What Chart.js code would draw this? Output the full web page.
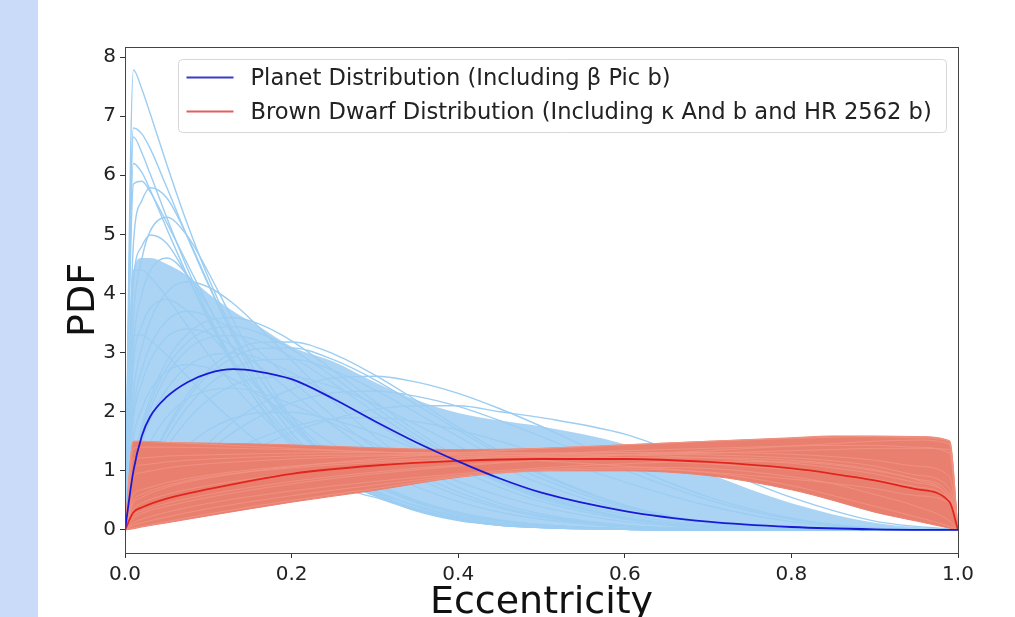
<!DOCTYPE html>
<html lang="en">
<head>
<meta charset="UTF-8">
<title>Eccentricity PDF</title>
<script src="https://cdn.jsdelivr.net/npm/chart.js@4.4.1/dist/chart.umd.min.js"></script>
<style>
  html, body { margin: 0; padding: 0; background: #fff; overflow: hidden; }
  #wrap { position: relative; width: 1015px; height: 617px; overflow: hidden; }
  #plot { position: absolute; left: 0; top: 0; }
  #strip { position: absolute; left: 0; top: 0; width: 38px; height: 617px; background: #c9dbf8; }
</style>
</head>
<body>
<div id="wrap">
  <canvas id="plot" width="1015" height="640"></canvas>
  <div id="strip"></div>
</div>
<script>
// eccentricity grid used by the planet curves
const eccPlanet = [0, 0.0101, 0.0202, 0.0303, 0.05, 0.075, 0.1, 0.13, 0.16, 0.2, 0.25, 0.3, 0.35, 0.4, 0.45, 0.5, 0.6, 0.7, 0.8, 0.9, 1.0];

const planetMain = [0, 1.0, 1.59, 1.92, 2.25, 2.50, 2.65, 2.72, 2.68, 2.55, 2.22, 1.84, 1.48, 1.16, 0.87, 0.63, 0.32, 0.14, 0.05, 0.01, 0];

// individual posterior draws (light blue)
const planetDraws = [
  [0, 7.78, 7.46, 7.04, 6.19, 5.17, 4.27, 3.35, 2.61, 1.83, 1.14, 0.68, 0.40, 0.22, 0.11, 0.06, 0.01, 0, 0, 0, 0],
  [0, 6.8, 6.7, 6.45, 5.8, 4.95, 4.15, 3.3, 2.6, 1.9, 1.25, 0.8, 0.5, 0.3, 0.17, 0.09, 0.02, 0, 0, 0, 0],
  [0, 6.65, 6.38, 6.02, 5.29, 4.42, 3.65, 2.86, 2.23, 1.56, 0.97, 0.6, 0.36, 0.2, 0.1, 0.05, 0.01, 0, 0, 0, 0],
  [0, 6.2, 6.05, 5.75, 5.1, 4.3, 3.55, 2.78, 2.15, 1.5, 0.95, 0.58, 0.34, 0.19, 0.1, 0.05, 0.01, 0, 0, 0, 0],
  [0, 5.85, 5.9, 5.72, 5.2, 4.5, 3.8, 3.05, 2.42, 1.76, 1.15, 0.74, 0.46, 0.27, 0.15, 0.08, 0.02, 0, 0, 0, 0],
  [0, 4.84, 5.57, 5.79, 5.62, 4.96, 4.17, 3.26, 2.47, 1.64, 1.0, 0.6, 0.33, 0.17, 0.08, 0.04, 0.01, 0, 0, 0, 0],
  [0, 3.59, 4.58, 5.06, 5.29, 4.97, 4.36, 3.54, 2.77, 1.90, 1.11, 0.64, 0.35, 0.18, 0.09, 0.04, 0.01, 0, 0, 0, 0],
  [0, 3.12, 3.98, 4.39, 4.60, 4.31, 3.78, 3.07, 2.40, 1.65, 0.97, 0.6, 0.33, 0.17, 0.08, 0.04, 0.01, 0, 0, 0, 0],
  [0, 2.32, 3.08, 3.54, 4.02, 4.2, 4.11, 3.83, 3.44, 2.87, 2.18, 1.58, 1.09, 0.72, 0.45, 0.27, 0.08, 0.02, 0, 0, 0],
  [0, 1.88, 2.49, 2.87, 3.26, 3.4, 3.33, 3.10, 2.78, 2.33, 1.76, 1.28, 0.88, 0.58, 0.37, 0.22, 0.06, 0.01, 0, 0, 0],
  [0, 1.15, 1.77, 2.23, 2.86, 3.32, 3.54, 3.59, 3.49, 3.20, 2.70, 2.17, 1.67, 1.23, 0.87, 0.58, 0.22, 0.06, 0.01, 0, 0],
  [0, 0.96, 1.48, 1.86, 2.38, 2.77, 2.95, 2.99, 2.91, 2.66, 2.25, 1.81, 1.40, 1.03, 0.72, 0.48, 0.18, 0.05, 0.01, 0, 0],
  [0, 0.42, 0.80, 1.15, 1.72, 2.29, 2.70, 3.02, 3.17, 3.18, 2.98, 2.62, 2.19, 1.74, 1.33, 0.96, 0.42, 0.13, 0.02, 0, 0],
  [0, 0.34, 0.65, 0.93, 1.40, 1.86, 2.20, 2.45, 2.57, 2.59, 2.42, 2.13, 1.78, 1.42, 1.08, 0.78, 0.34, 0.11, 0.02, 0, 0],
  [0, 0.11, 0.25, 0.40, 0.68, 1.03, 1.33, 1.65, 1.91, 2.15, 2.32, 2.35, 2.26, 2.09, 1.85, 1.58, 1.01, 0.51, 0.18, 0.03, 0],
  [0, 0.07, 0.16, 0.25, 0.44, 0.68, 0.91, 1.16, 1.39, 1.65, 1.88, 2.04, 2.1, 2.1, 2.0, 1.9, 1.62, 1.1, 0.55, 0.15, 0],
  [0, 1.55, 2.05, 2.36, 2.68, 2.8, 2.74, 2.55, 2.29, 1.92, 1.45, 1.05, 0.73, 0.48, 0.30, 0.18, 0.05, 0.01, 0, 0, 0],
  [0, 0.77, 1.18, 1.49, 1.91, 2.22, 2.36, 2.40, 2.33, 2.13, 1.80, 1.45, 1.12, 0.82, 0.58, 0.39, 0.14, 0.04, 0.01, 0, 0],
  [0, 0.26, 0.50, 0.72, 1.08, 1.43, 1.69, 1.89, 1.98, 1.99, 1.86, 1.64, 1.37, 1.09, 0.83, 0.60, 0.26, 0.08, 0.02, 0, 0],
  [0, 4.39, 4.4, 4.28, 3.94, 3.45, 2.97, 2.45, 1.99, 1.48, 0.99, 0.65, 0.41, 0.24, 0.14, 0.08, 0.02, 0, 0, 0, 0],
  [0, 3.29, 3.3, 3.21, 2.96, 2.59, 2.23, 1.84, 1.49, 1.11, 0.75, 0.55, 0.34, 0.2, 0.11, 0.06, 0.01, 0, 0, 0, 0],
  [0, 1.05, 1.62, 2.04, 2.62, 3.05, 3.25, 3.29, 3.20, 2.93, 2.48, 1.99, 1.53, 1.13, 0.80, 0.53, 0.20, 0.05, 0.01, 0, 0],
  [0, 0.38, 0.73, 1.04, 1.56, 2.08, 2.45, 2.73, 2.87, 2.89, 2.70, 2.37, 1.98, 1.58, 1.20, 0.87, 0.38, 0.12, 0.02, 0, 0],
  [0, 0.09, 0.21, 0.32, 0.55, 0.83, 1.08, 1.34, 1.54, 1.74, 1.88, 1.90, 1.83, 1.69, 1.50, 1.28, 0.81, 0.41, 0.14, 0.02, 0],
  [0, 4.18, 4.8, 4.99, 4.85, 4.28, 3.6, 2.81, 2.13, 1.42, 0.88, 0.58, 0.32, 0.16, 0.08, 0.04, 0.01, 0, 0, 0, 0],
  [0, 2.8, 3.45, 3.75, 3.9, 3.7, 3.35, 2.85, 2.38, 1.8, 1.2, 0.78, 0.48, 0.28, 0.16, 0.09, 0.02, 0, 0, 0, 0],
  [0, 1.10, 1.70, 2.14, 2.74, 3.18, 3.39, 3.44, 3.34, 3.06, 2.59, 2.08, 1.60, 1.18, 0.83, 0.56, 0.21, 0.05, 0.01, 0, 0],
  [0, 0.41, 0.78, 1.11, 1.67, 2.22, 2.62, 2.92, 3.07, 3.08, 2.88, 2.54, 2.12, 1.69, 1.28, 0.93, 0.41, 0.13, 0.02, 0, 0],
  [0, 0.12, 0.28, 0.44, 0.76, 1.14, 1.47, 1.83, 2.11, 2.38, 2.57, 2.6, 2.5, 2.31, 2.05, 1.75, 1.11, 0.56, 0.2, 0.03, 0],
  [0, 2.04, 2.71, 3.12, 3.54, 3.7, 3.62, 3.37, 3.03, 2.53, 1.92, 1.39, 0.96, 0.64, 0.40, 0.24, 0.07, 0.01, 0, 0, 0]
];

// the dense part of the light blue bundle
const planetBandLow  = [0, 0.3, 0.6, 0.8, 1.0, 1.1, 1.1, 1.0, 0.9, 0.8, 0.7, 0.6, 0.36, 0.2, 0.1, 0.05, 0.02, 0.01, 0, 0, 0];
const planetBandHigh = [0, 4.4, 4.6, 4.6, 4.5, 4.3, 4.0, 3.7, 3.45, 3.1, 2.85, 2.5, 2.2, 1.98, 1.85, 1.75, 1.45, 0.95, 0.45, 0.12, 0];

// eccentricity grid used by the brown dwarf curves
const eccDwarf = [0, 0.0101, 0.02, 0.05, 0.1, 0.2, 0.3, 0.4, 0.5, 0.6, 0.7, 0.8, 0.85, 0.9, 0.95, 0.9899, 1.0];

const dwarfMain = [0, 0.30, 0.38, 0.53, 0.69, 0.95, 1.09, 1.17, 1.20, 1.20, 1.15, 1.04, 0.95, 0.84, 0.69, 0.47, 0];

const dwarfDraws = [
  [0, 1.5, 1.5, 1.48, 1.45, 1.38, 1.32, 1.25, 1.17, 1.08, 0.98, 0.86, 0.79, 0.7, 0.58, 0.45, 0],
  [0, 0.45, 0.55, 0.72, 0.88, 1.07, 1.2, 1.3, 1.38, 1.44, 1.5, 1.55, 1.57, 1.58, 1.56, 1.5, 0],
  [0, 0.03, 0.06, 0.14, 0.27, 0.5, 0.7, 0.9, 1.0, 1.03, 0.97, 0.75, 0.58, 0.4, 0.22, 0.06, 0],
  [0, 0.25, 0.32, 0.45, 0.6, 0.82, 0.98, 1.1, 1.18, 1.22, 1.22, 1.18, 1.12, 1.02, 0.86, 0.6, 0],
  [0, 1.2, 1.22, 1.25, 1.27, 1.3, 1.31, 1.31, 1.3, 1.27, 1.22, 1.13, 1.05, 0.95, 0.8, 0.55, 0],
  [0, 0.9, 0.97, 1.05, 1.12, 1.2, 1.25, 1.28, 1.3, 1.31, 1.31, 1.28, 1.24, 1.18, 1.08, 0.9, 0],
  [0, 0.12, 0.18, 0.3, 0.45, 0.66, 0.82, 0.95, 1.05, 1.12, 1.16, 1.15, 1.1, 1.0, 0.85, 0.5, 0],
  [0, 0.6, 0.68, 0.8, 0.93, 1.08, 1.17, 1.23, 1.27, 1.28, 1.27, 1.22, 1.17, 1.08, 0.93, 0.7, 0],
  [0, 0.35, 0.45, 0.6, 0.75, 0.95, 1.1, 1.2, 1.28, 1.34, 1.38, 1.42, 1.43, 1.43, 1.4, 1.3, 0],
  [0, 1.05, 1.1, 1.15, 1.2, 1.25, 1.27, 1.27, 1.26, 1.22, 1.15, 1.04, 0.96, 0.85, 0.7, 0.45, 0],
  [0, 0.5, 0.6, 0.75, 0.9, 1.05, 1.14, 1.2, 1.24, 1.27, 1.3, 1.34, 1.36, 1.38, 1.38, 1.36, 0],
  [0, 0.08, 0.12, 0.22, 0.36, 0.58, 0.76, 0.92, 1.02, 1.06, 1.04, 0.9, 0.78, 0.6, 0.4, 0.15, 0],
  [0, 1.38, 1.4, 1.4, 1.39, 1.36, 1.32, 1.28, 1.24, 1.19, 1.12, 1.02, 0.95, 0.86, 0.73, 0.5, 0],
  [0, 0.2, 0.28, 0.4, 0.55, 0.78, 0.95, 1.08, 1.18, 1.27, 1.34, 1.42, 1.46, 1.5, 1.52, 1.45, 0]
];

const dwarfBandLow  = [0, 0.02, 0.05, 0.12, 0.24, 0.47, 0.67, 0.89, 1.0, 1.0, 0.92, 0.68, 0.5, 0.3, 0.15, 0.03, 0];
const dwarfBandHigh = [0, 1.5, 1.5, 1.48, 1.47, 1.44, 1.39, 1.36, 1.38, 1.44, 1.5, 1.56, 1.59, 1.59, 1.58, 1.51, 0];

const xTicks = [0, 0.2, 0.4, 0.6, 0.8, 1.0];
const yTicks = [0, 1, 2, 3, 4, 5, 6, 7, 8];
const legendLabels = [
  'Planet Distribution (Including \u03b2 Pic b)',
  'Brown Dwarf Distribution (Including \u03ba And b and HR 2562 b)'
];
const legendColors = ['#3b3bc9', '#e0605a'];

function toPoints(xs, ys) {
  return xs.map((x, i) => ({ x: x, y: ys[i] }));
}

const lineBase = {
  pointRadius: 0,
  fill: false,
  cubicInterpolationMode: 'monotone'
};

let datasets = [];

datasets.push(Object.assign({}, lineBase, {
  label: legendLabels[0],
  data: toPoints(eccPlanet, planetMain),
  borderColor: '#1a1ad6', borderWidth: 1.8, order: 0
}));
datasets.push(Object.assign({}, lineBase, {
  label: legendLabels[1],
  data: toPoints(eccDwarf, dwarfMain),
  borderColor: '#e2241c', borderWidth: 1.8, order: 1
}));

dwarfDraws.forEach(d => {
  datasets.push(Object.assign({}, lineBase, {
    data: toPoints(eccDwarf, d),
    borderColor: 'rgba(241,146,131,0.9)', borderWidth: 1, order: 2
  }));
});

let dwarfLowIdx = datasets.length;
datasets.push(Object.assign({}, lineBase, {
  data: toPoints(eccDwarf, dwarfBandLow),
  borderColor: '#e9806f', borderWidth: 1, order: 3
}));
datasets.push(Object.assign({}, lineBase, {
  data: toPoints(eccDwarf, dwarfBandHigh),
  borderColor: '#ec8a79', borderWidth: 1, order: 3,
  fill: { target: dwarfLowIdx }, backgroundColor: '#e9806f'
}));

planetDraws.forEach(d => {
  datasets.push(Object.assign({}, lineBase, {
    data: toPoints(eccPlanet, d),
    borderColor: '#9ccdf2', borderWidth: 1.4, order: 4
  }));
});

let planetLowIdx = datasets.length;
datasets.push(Object.assign({}, lineBase, {
  data: toPoints(eccPlanet, planetBandLow),
  borderColor: 'rgba(0,0,0,0)', borderWidth: 0, order: 5
}));
datasets.push(Object.assign({}, lineBase, {
  data: toPoints(eccPlanet, planetBandHigh),
  borderColor: 'rgba(0,0,0,0)', borderWidth: 0, order: 5,
  fill: { target: planetLowIdx }, backgroundColor: 'rgba(156,205,242,0.85)'
}));

// closes the axes box on top and right like matplotlib spines
const frameBox = {
  id: 'frameBox',
  afterDatasetsDraw(chart) {
    const a = chart.chartArea, ctx = chart.ctx;
    ctx.save();
    ctx.strokeStyle = '#444';
    ctx.lineWidth = 1;
    ctx.strokeRect(Math.round(a.left) + 0.5, Math.round(a.top) + 0.5,
                   Math.round(a.right - a.left), Math.round(a.bottom - a.top));
    ctx.restore();
  }
};

// legend inside the axes, upper part
const boxLegend = {
  id: 'boxLegend',
  afterDraw(chart) {
    const a = chart.chartArea, ctx = chart.ctx;
    const left = a.left + 53.5, top = a.top + 12.5, w = 768, h = 73;
    ctx.save();
    ctx.beginPath();
    ctx.roundRect(left, top, w, h, 4);
    ctx.fillStyle = 'rgba(255,255,255,0.85)';
    ctx.fill();
    ctx.strokeStyle = '#d8d8d8';
    ctx.lineWidth = 1;
    ctx.stroke();
    ctx.font = '22.6px "DejaVu Sans", sans-serif';
    ctx.textBaseline = 'middle';
    ctx.fillStyle = '#222';
    legendLabels.forEach((txt, i) => {
      const y = top + 20 + i * 34;
      ctx.strokeStyle = legendColors[i];
      ctx.lineWidth = 2;
      ctx.beginPath();
      ctx.moveTo(left + 8, y - 2);
      ctx.lineTo(left + 55, y - 2);
      ctx.stroke();
      ctx.fillText(txt, left + 72, y);
    });
    ctx.restore();
  }
};

Chart.defaults.font.family = '"DejaVu Sans", sans-serif';

new Chart(document.getElementById('plot').getContext('2d'), {
  type: 'line',
  data: { datasets: datasets },
  plugins: [frameBox, boxLegend],
  options: {
    responsive: false,
    animation: false,
    events: [],
    layout: { padding: { top: 47, right: 57, left: 0, bottom: 0 } },
    plugins: {
      legend: { display: false },
      tooltip: { enabled: false }
    },
    scales: {
      x: {
        type: 'linear',
        min: 0, max: 1,
        afterBuildTicks: s => { s.ticks = xTicks.map(v => ({ value: v })); },
        afterFit: s => { s.height = 87; },
        ticks: { font: { size: 20 }, color: '#222', padding: 5, maxRotation: 0,
                 callback: v => v.toFixed(1) },
        grid: { drawOnChartArea: false, drawTicks: true, tickLength: 5, color: '#333' },
        border: { display: true, color: '#444' },
        title: { display: true, text: 'Eccentricity', font: { size: 38 }, color: '#111',
                 padding: { top: 0, bottom: 14 } }
      },
      y: {
        type: 'linear',
        min: -0.39, max: 8.17,
        afterBuildTicks: s => { s.ticks = yTicks.map(v => ({ value: v })); },
        afterFit: s => { s.width = 125; },
        ticks: { font: { size: 20 }, color: '#222', padding: 4,
                 callback: v => String(v) },
        grid: { drawOnChartArea: false, drawTicks: true, tickLength: 5, color: '#333' },
        border: { display: true, color: '#444' },
        title: { display: true, text: 'PDF', font: { size: 38 }, color: '#111',
                 padding: { top: 61, bottom: 0 } }
      }
    }
  }
});
</script>
</body>
</html>
